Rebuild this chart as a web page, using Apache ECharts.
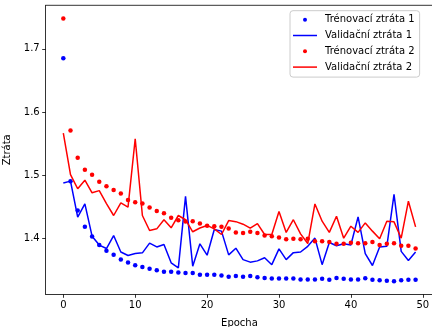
<!DOCTYPE html>
<html>
<head>
<meta charset="utf-8">
<script src="https://cdn.jsdelivr.net/npm/echarts@6/dist/echarts.min.js"></script>
<style>
html,body{margin:0;padding:0;background:#fff;}
#c{width:432px;height:327px;}
</style>
</head>
<body>
<div id="c"></div>
<script>
const epochs = [0,1,2,3,4,5,6,7,8,9,10,11,12,13,14,15,16,17,18,19,20,21,22,23,24,25,26,27,28,29,30,31,32,33,34,35,36,37,38,39,40,41,42,43,44,45,46,47,48,49];
const trainLoss1 = [1.685,1.491,1.4445,1.419,1.4035,1.390,1.381,1.3745,1.367,1.3625,1.358,1.3555,1.3525,1.350,1.348,1.348,1.3465,1.346,1.346,1.343,1.343,1.343,1.342,1.340,1.341,1.340,1.341,1.339,1.338,1.337,1.337,1.337,1.337,1.3355,1.3355,1.3355,1.3366,1.335,1.338,1.3366,1.3355,1.3355,1.3376,1.335,1.3345,1.3335,1.333,1.3345,1.335,1.335];
const valLoss1 = [1.488,1.491,1.434,1.455,1.404,1.390,1.3845,1.405,1.379,1.3735,1.3766,1.3777,1.393,1.387,1.391,1.362,1.354,1.467,1.3566,1.392,1.374,1.4145,1.412,1.3745,1.385,1.367,1.363,1.365,1.370,1.359,1.384,1.367,1.378,1.379,1.388,1.401,1.359,1.394,1.389,1.392,1.390,1.4346,1.3766,1.3577,1.387,1.388,1.470,1.380,1.3655,1.379];
const trainLoss2 = [1.748,1.571,1.528,1.509,1.501,1.490,1.483,1.477,1.4714,1.461,1.4577,1.4556,1.4493,1.444,1.4403,1.433,1.4292,1.4272,1.4277,1.424,1.4204,1.4198,1.4188,1.416,1.410,1.409,1.411,1.409,1.405,1.404,1.402,1.399,1.400,1.399,1.400,1.396,1.396,1.395,1.392,1.392,1.3935,1.393,1.393,1.395,1.390,1.392,1.393,1.389,1.389,1.3845];
const valLoss2 = [1.567,1.5014,1.479,1.4925,1.4725,1.476,1.4556,1.4367,1.4567,1.450,1.558,1.4367,1.413,1.4156,1.430,1.4172,1.4367,1.430,1.411,1.417,1.421,1.4156,1.4067,1.4287,1.427,1.423,1.4166,1.424,1.4067,1.4067,1.443,1.410,1.430,1.4077,1.3924,1.455,1.4277,1.410,1.4356,1.4008,1.4198,1.410,1.425,1.412,1.400,1.4277,1.4267,1.4008,1.4593,1.4188];
const xTicks = [0,10,20,30,40,50];
const yTicks = [1.4,1.5,1.6,1.7];
const seriesNames = ['Trénovací ztráta 1','Validační ztráta 1','Trénovací ztráta 2','Validační ztráta 2'];
const xTitle = 'Epocha';
const yTitle = 'Ztráta';

const pairs = arr => epochs.map((e,i)=>[e,arr[i]]);
const FONT = 'DejaVu Sans';
const lineIcon = 'path://M0,0 L24,0 L24,1.5 L0,1.5 Z';

const chart = echarts.init(document.getElementById('c'), null, {renderer:'canvas'});
chart.setOption({
  animation:false,
  backgroundColor:'#ffffff',
  textStyle:{fontFamily:FONT},
  grid:{left:45.7, top:5.3, width:387.5, height:289, containLabel:false, outerBoundsMode:'none'},
  xAxis:{
    type:'value', min:-2.45, max:51.45,
    name:xTitle, nameLocation:'middle', nameGap:24,
    nameTextStyle:{fontFamily:FONT, fontSize:10, color:'#000', verticalAlign:'top'},
    axisLine:{show:true, onZero:false, lineStyle:{color:'#000', width:0.8}},
    axisTick:{show:true, inside:false, length:3.5, lineStyle:{color:'#000', width:0.8}, customValues:xTicks},
    axisLabel:{fontFamily:FONT, fontSize:10, color:'#000', margin:6, customValues:xTicks},
    splitLine:{show:false}
  },
  yAxis:{
    type:'value', min:1.3122, max:1.7688,
    name:yTitle, nameLocation:'middle', nameGap:28, nameRotate:90,
    nameTextStyle:{fontFamily:FONT, fontSize:10, color:'#000'},
    axisLine:{show:true, onZero:false, lineStyle:{color:'#000', width:0.8}},
    axisTick:{show:true, inside:false, length:3.5, lineStyle:{color:'#000', width:0.8}, customValues:yTicks},
    axisLabel:{fontFamily:FONT, fontSize:10, color:'#000', margin:6, customValues:yTicks, formatter:v=>v.toFixed(1)},
    splitLine:{show:false}
  },
  graphic:[
    {type:'line', shape:{x1:45.7,y1:5.3,x2:432,y2:5.3}, style:{stroke:'#000', lineWidth:0.8}, z:10}
  ],
  legend:{
    orient:'vertical', left:290, top:10.7,
    padding:[3,5,4,3],
    itemWidth:24, itemHeight:4, itemGap:3.8,
    backgroundColor:'rgba(255,255,255,0.8)',
    borderColor:'#cccccc', borderWidth:1, borderRadius:3,
    textStyle:{fontFamily:FONT, fontSize:10, color:'#000', lineHeight:12, padding:[0,0,0,3]},
    data:[
      {name:seriesNames[0], icon:'circle'},
      {name:seriesNames[1], icon:lineIcon},
      {name:seriesNames[2], icon:'circle'},
      {name:seriesNames[3], icon:lineIcon}
    ]
  },
  series:[
    {name:seriesNames[0], type:'scatter', data:pairs(trainLoss1), symbol:'circle', symbolSize:4.5, itemStyle:{color:'#0000ff', opacity:1}, z:2},
    {name:seriesNames[1], type:'line', data:pairs(valLoss1), showSymbol:false, symbol:'none', lineStyle:{color:'#0000ff', width:1.5}, itemStyle:{color:'#0000ff'}, z:3},
    {name:seriesNames[2], type:'scatter', data:pairs(trainLoss2), symbol:'circle', symbolSize:4.5, itemStyle:{color:'#ff0000', opacity:1}, z:4},
    {name:seriesNames[3], type:'line', data:pairs(valLoss2), showSymbol:false, symbol:'none', lineStyle:{color:'#ff0000', width:1.5}, itemStyle:{color:'#ff0000'}, z:5}
  ]
});
</script>
</body>
</html>
